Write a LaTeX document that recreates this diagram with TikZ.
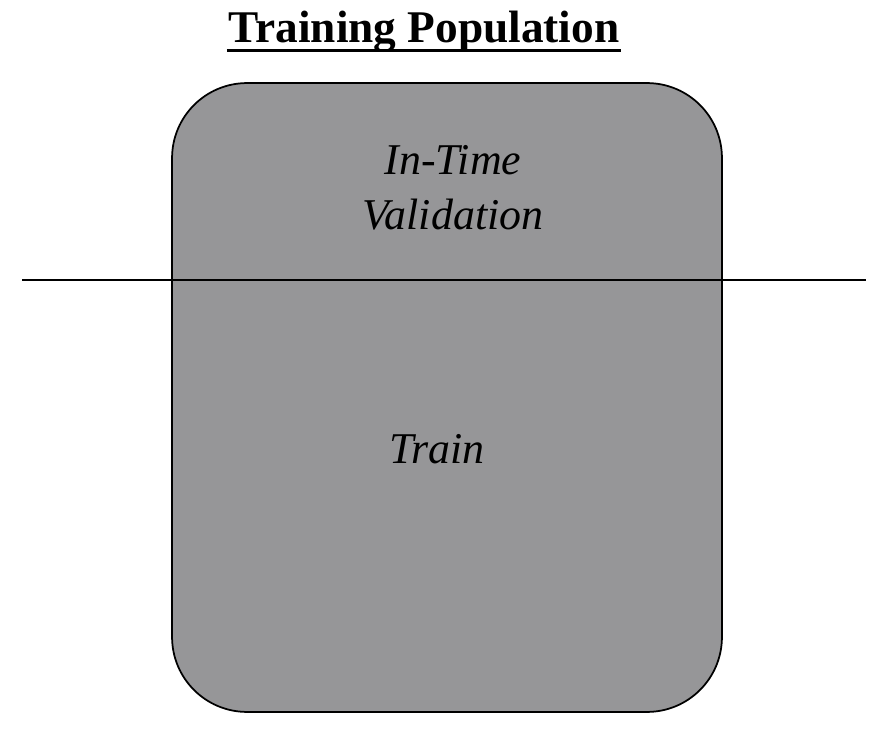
\documentclass[tikz,border=0pt]{standalone}
\usepackage{fontspec}
\setmainfont{Liberation Serif}
\usetikzlibrary{positioning}
\definecolor{popgray}{RGB}{150,150,152}

\begin{document}
\begin{tikzpicture}[x=0.02cm,y=-0.02cm,line width=0.35mm,
  pop/.style={draw=black,fill=popgray,rounded corners=1.5cm,minimum width=11cm,minimum height=12.58cm},
  lbl/.style={font=\fontsize{25}{31}\selectfont\itshape,align=center}]
\useasboundingbox (0,0) rectangle (885,736);
\node[font=\fontsize{25.8}{30}\selectfont\bfseries,anchor=base,inner xsep=0.5pt] (title) at (424,43) {Training Population};
\draw[line width=1.7pt] ([yshift=-4pt]title.base west) -- ([yshift=-4pt]title.base east);
\node[pop] (pop) at (447,397.5) {};
\coordinate (L) at (22,280);
\coordinate (R) at (866,280);
\draw (L) -- (R);
\node[lbl] (valid) at (453,188) {In-Time\\Validation};
\node[lbl] (train) at (437,449) {Train};
\end{tikzpicture}
\end{document}
